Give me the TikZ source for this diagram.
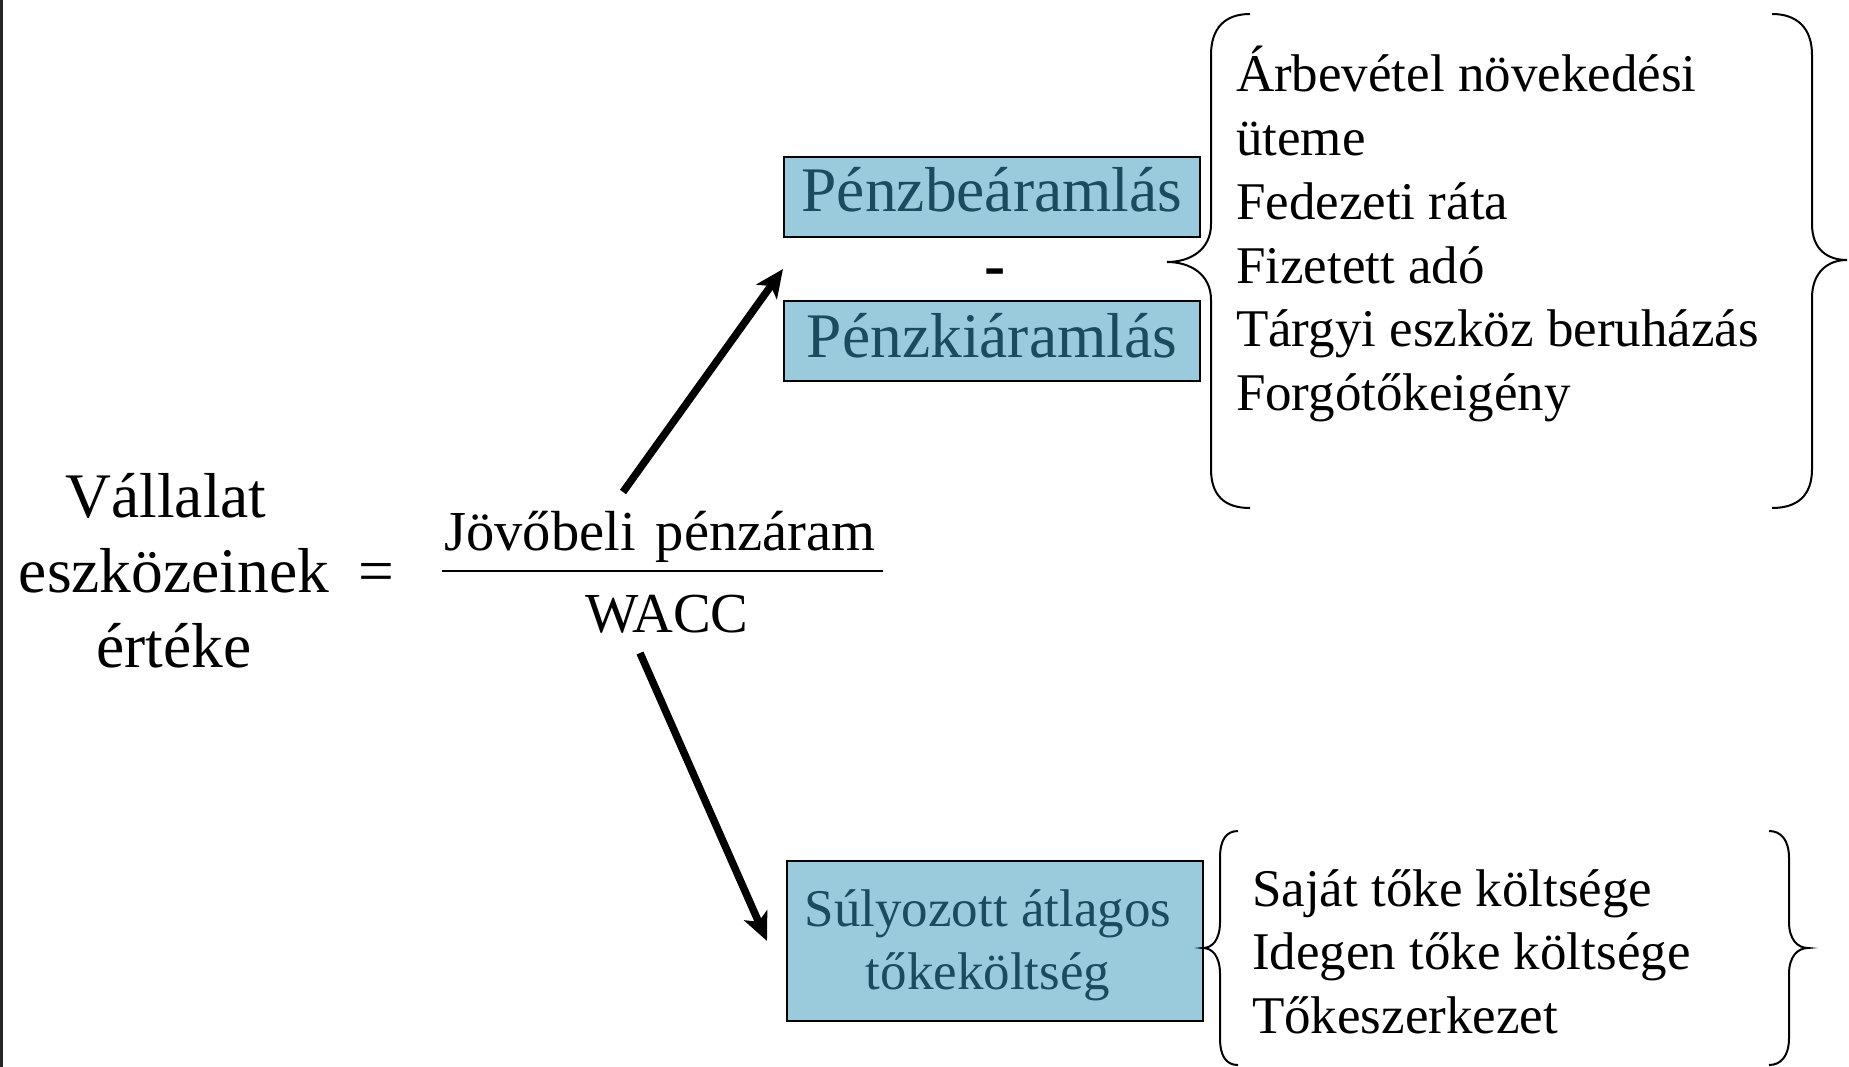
\documentclass[tikz,border=0pt]{standalone}
\usepackage{fontspec}
\setmainfont{Liberation Serif}
\usetikzlibrary{arrows.meta,calc}
\definecolor{boxfill}{RGB}{153,203,221}
\definecolor{boxtext}{RGB}{28,74,94}
% one centred line of fixed width
\newcommand\ctrrow[2]{\hbox to #1{\hfil #2\hfil}}
\begin{document}
\begin{tikzpicture}[x=1pt,y=-1pt,
  every node/.style={inner sep=0pt, outer sep=0pt},
  bigtext/.style={font=\fontsize{63.5}{75}\selectfont},
  fractext/.style={font=\fontsize{56.5}{68}\selectfont},
  listtext/.style={font=\fontsize{53}{63.7}\selectfont},
  flowbox/.style={draw=black, line width=2.6pt, fill=boxfill, text=boxtext, minimum width=416pt},
  bracepath/.style={draw=black, line width=2pt},
  flowarrow/.style={line width=7.5pt, -{Stealth[length=28pt,width=25pt,inset=7pt]}},
]
\useasboundingbox (0,0) rectangle (1849,1067);
\fill[white] (0,0) rectangle (1849,1067);
\draw[line width=3pt, black!85] (1.5,0) -- (1.5,1067);

% left-hand side of the equation
\node[bigtext, anchor=base] (lhs) at (174,517)
  {\vtop{\baselineskip=75pt
    \ctrrow{400pt}{Vállalat\kern16pt}
    \ctrrow{400pt}{eszközeinek}
    \ctrrow{400pt}{értéke}}};
\node[bigtext, anchor=base] (eq) at (376,592) {=};

% the fraction
\node[fractext, anchor=base] (num) at (660,550) {Jövőbeli\hskip 20pt pénzáram};
\node[fractext, anchor=base] (den) at (667,632) {WACC};
\coordinate (barL) at (442,571);
\coordinate (barR) at (883,571);
\draw[line width=2.2pt] (barL) -- (barR);

% cash flow boxes
\node[flowbox, bigtext, text height=55pt, text depth=25pt, anchor=north west] (inflow) at (784,157) {Pénzbeáramlás};
\node[flowbox, bigtext, text height=56pt, text depth=24pt, anchor=north west] (outflow) at (784,301) {Pénzkiáramlás};
\node[font=\bfseries\fontsize{63.5}{70}\selectfont, anchor=base] (minus) at (995,287) {-};

% cost of capital box
\node[flowbox, listtext, text height=65pt, text depth=95pt, anchor=north west] (wacc) at (787,861)
  {\vtop{\baselineskip=63pt
    \ctrrow{416pt}{Súlyozott átlagos\hskip 14pt}
    \ctrrow{416pt}{tőkeköltség\hskip 14pt}}};

% arrows
\coordinate (upstart) at (623,492);
\coordinate (uptip) at ($(inflow.south west)!0.5!(outflow.north west)+(-1,0)$);
\coordinate (downstart) at (640,653);
\coordinate (downtip) at ($(wacc.west)+(-20,0)$);
\draw[flowarrow] (upstart) -- (uptip);
\draw[flowarrow] (downstart) -- (downtip);

% cash flow drivers
\node[listtext, anchor=base west] (drivers) at (1236,92)
  {\vtop{\baselineskip=63.7pt
    \hbox{Árbevétel növekedési}
    \hbox{üteme}
    \hbox{Fedezeti ráta}
    \hbox{Fizetett adó}
    \hbox{Tárgyi eszköz beruházás}
    \hbox{Forgótőkeigény}}};

% cost of capital drivers
\node[listtext, anchor=base west] (costs) at (1252,906)
  {\vtop{\baselineskip=63.7pt
    \hbox{Saját tőke költsége}
    \hbox{Idegen tőke költsége}
    \hbox{Tőkeszerkezet}}};

% braces around the cash flow drivers
\draw[bracepath] (1250,14) .. controls (1225,14) and (1211,28) .. (1211,55)
  -- (1211,224) .. controls (1211,250) and (1190,262) .. (1167,262)
  .. controls (1190,262) and (1211,274) .. (1211,300)
  -- (1211,469) .. controls (1211,496) and (1225,508) .. (1250,508);
\draw[bracepath] (1772,14) .. controls (1797,14) and (1812,28) .. (1812,55)
  -- (1812,224) .. controls (1812,250) and (1828,260) .. (1847,260)
  .. controls (1828,260) and (1812,272) .. (1812,298)
  -- (1812,469) .. controls (1812,496) and (1797,508) .. (1772,508);

% braces around the cost of capital drivers
\draw[bracepath] (1238,831) .. controls (1226,831) and (1220,840) .. (1220,858)
  -- (1220,922) .. controls (1220,940) and (1212,948) .. (1203,948)
  .. controls (1212,948) and (1220,956) .. (1220,974)
  -- (1220,1038) .. controls (1220,1056) and (1226,1065) .. (1238,1065);
\draw[bracepath] (1769,831) .. controls (1781,831) and (1789,840) .. (1789,858)
  -- (1789,922) .. controls (1789,940) and (1798,948) .. (1808,948)
  .. controls (1798,948) and (1789,956) .. (1789,974)
  -- (1789,1038) .. controls (1789,1056) and (1781,1065) .. (1769,1065);
\end{tikzpicture}
\end{document}
